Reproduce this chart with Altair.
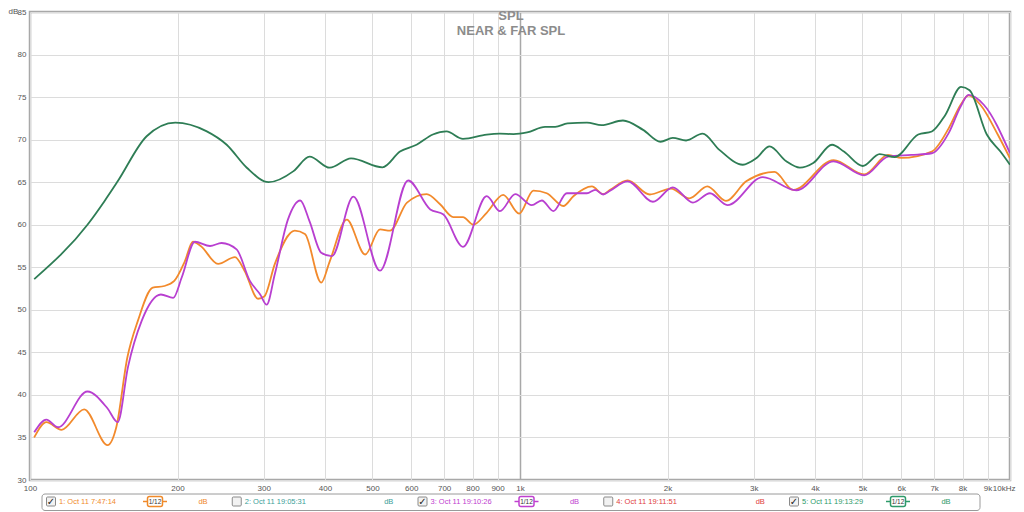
import altair as alt
import pandas as pd

# ---------------- data ----------------
orange_f = [102, 108, 116, 129, 144, 150, 158, 166, 178, 188, 197, 207, 215, 223, 242, 262, 274, 292, 301,
            316, 347, 364, 393, 409, 443, 483, 518, 543, 588, 645, 687, 731, 765, 803, 855, 924, 996, 1065,
            1134, 1226, 1285, 1402, 1478, 1527, 1658, 1840, 2033, 2216, 2412, 2632, 2895, 3305, 3610, 4365,
            5040, 5640, 6000, 6925, 7500, 7930, 8230, 8700, 9440, 10000]
orange_db = [35.0, 36.8, 35.9, 38.3, 34.1, 36.2, 44.4, 48.7, 52.6, 52.8, 53.4, 55.7, 58.0, 57.5, 55.4, 56.2,
             54.6, 51.3, 51.6, 55.4, 59.3, 58.9, 53.2, 55.7, 60.6, 56.5, 59.45, 59.3, 62.6, 63.6, 62.4, 60.9,
             60.9, 60.0, 61.4, 63.5, 61.3, 64.0, 63.7, 62.2, 63.35, 64.5, 63.6, 64.1, 65.2, 63.55, 64.25, 63.1,
             64.5, 62.8, 65.1, 66.2, 64.1, 67.6, 65.9, 68.2, 67.85, 68.6, 71.35, 74.1, 75.2, 74.1, 70.6, 67.8]

purple_f = [102, 108, 114, 131, 144, 151, 158.5, 169, 185, 196, 204, 217, 233, 246, 264, 281, 295, 304, 316,
            336, 356, 372, 393, 413, 457, 518, 591, 656, 698, 765, 855, 910, 978, 1057, 1108, 1170, 1246,
            1370, 1424, 1478, 1527, 1658, 1868, 2050, 2254, 2442, 2650, 3130, 3664, 4365, 5040, 5640, 6290,
            6925, 7500, 7930, 8230, 8840, 10000]
purple_db = [35.6, 37.1, 36.2, 40.4, 38.4, 36.8, 43.3, 48.7, 51.8, 51.4, 53.8, 58.0, 57.5, 57.85, 57.1, 53.4,
             51.8, 50.6, 54.2, 60.6, 62.85, 60.4, 56.7, 56.3, 63.3, 54.6, 65.2, 61.8, 61.2, 57.4, 63.35, 61.6,
             63.6, 62.3, 62.85, 61.6, 63.7, 63.7, 64.1, 63.55, 64.0, 65.1, 62.7, 64.4, 62.6, 63.7, 62.3, 65.6,
             64.05, 67.45, 65.8, 68.0, 68.2, 68.4, 70.8, 73.9, 75.25, 74.1, 68.4]

green_f = [102, 131, 142, 151, 173, 198, 229, 252, 277, 307, 345, 372, 409, 452, 524, 569, 615, 664, 708,
           765, 855, 910, 970, 1034, 1125, 1180, 1250, 1370, 1467, 1622, 1783, 1935, 2050, 2182, 2358, 2552,
           2850, 3034, 3230, 3495, 3725, 3967, 4333, 4581, 5004, 5418, 5818, 6497, 6925, 7379, 7946, 8270,
           8967, 9560, 10000]
green_db = [53.6, 60.0, 62.8, 65.1, 70.4, 72.0, 71.0, 69.4, 66.7, 65.0, 66.3, 68.0, 66.7, 67.8, 66.75, 68.6,
            69.4, 70.6, 70.96, 70.1, 70.6, 70.7, 70.65, 70.85, 71.5, 71.5, 71.9, 72.0, 71.7, 72.25, 71.15,
            69.75, 70.2, 69.9, 70.7, 68.8, 67.05, 67.8, 69.2, 67.45, 66.7, 67.25, 69.4, 68.6, 66.9, 68.3,
            67.95, 70.6, 70.96, 72.9, 76.2, 75.8, 70.6, 68.6, 67.05]

series_names = ["1", "3", "5"]
series_colors = ["#F28A2C", "#B83FD0", "#2E7D55"]

x_ticks = [100, 200, 300, 400, 500, 600, 700, 800, 900,
           1000, 2000, 3000, 4000, 5000, 6000, 7000, 8000, 9000, 10000]
y_ticks = [30, 35, 40, 45, 50, 55, 60, 65, 70, 75, 80, 85]

title_lines = ["SPL", "NEAR & FAR SPL"]

legend_labels = ["1: Oct 11 7:47:14", "2: Oct 11 19:05:31", "3: Oct 11 19:10:26",
                 "4: Oct 11 19:11:51", "5: Oct 11 19:13:29"]
legend_colors = ["#F08A2A", "#3A9E98", "#C040D0", "#E03C3C", "#2E9A6A"]
legend_checked = [True, False, True, False, True]
legend_icon = [True, False, True, False, True]

# ---------------- build tables ----------------
rows = []
for name, fs, ds in zip(series_names, [orange_f, purple_f, green_f], [orange_db, purple_db, green_db]):
    for f, d in zip(fs, ds):
        rows.append({"series": name, "f": f, "db": d})
df = pd.DataFrame(rows)

W, H = 980, 468
FONT = "Liberation Sans"

x_axis = alt.Axis(
    values=x_ticks, title=None, ticks=False, domain=False,
    labelExpr="datum.value >= 10000 ? '10kHz' : (datum.value >= 1000 ? (datum.value/1000) + 'k' : datum.value)",
    labelFont=FONT, labelFontSize=8, labelColor="#555555", labelPadding=4,
    labelAlign={"condition": {"test": "datum.value >= 10000", "value": "right"}, "value": "center"},
    labelOffset={"condition": {"test": "datum.value >= 10000", "value": 5}, "value": 0},
    gridColor={"condition": {"test": "datum.value === 1000", "value": "#a8a8a8"}, "value": "#dcdcdc"},
    gridWidth={"condition": {"test": "datum.value === 1000", "value": 1.5}, "value": 1},
    labelOverlap=False,
)
y_axis = alt.Axis(
    values=y_ticks, title=None, ticks=False, domain=False,
    labelFont=FONT, labelFontSize=8, labelColor="#555555", labelPadding=4,
    gridColor="#dcdcdc", labelOverlap=False,
)

lines = alt.Chart(df).mark_line(strokeWidth=1.8, interpolate="monotone", clip=True).encode(
    x=alt.X("f:Q", scale=alt.Scale(type="log", domain=[100, 10000]), axis=x_axis),
    y=alt.Y("db:Q", scale=alt.Scale(domain=[30, 85]), axis=y_axis),
    color=alt.Color("series:N", scale=alt.Scale(domain=series_names, range=series_colors), legend=None),
)

# ---------------- chrome: titles, dB unit, legend strip ----------------
tdf = pd.DataFrame({"t": title_lines, "px": [481, 481], "py": [4, 19]})
titles = alt.Chart(tdf).mark_text(font=FONT, fontSize=13, fontWeight="bold", color="#8c8c8c",
                                  baseline="middle", align="center").encode(
    x=alt.X("px:Q", scale=None, axis=None), y=alt.Y("py:Q", scale=None, axis=None), text="t:N")

unit = alt.Chart(pd.DataFrame({"t": ["dB"], "px": [-16.5], "py": [-4]})).mark_text(
    font=FONT, fontSize=8, color="#555555", baseline="top", align="center").encode(
    x=alt.X("px:Q", scale=None, axis=None), y=alt.Y("py:Q", scale=None, axis=None), text="t:N")

# legend positions (view coordinates)
step = 185.75
cb0 = 21.0     # first checkbox centre
ly = 489.5     # legend row centre
leg = pd.DataFrame({
    "label": legend_labels,
    "color": legend_colors,
    "checked": legend_checked,
    "icon": legend_icon,
    "i": list(range(len(legend_labels))),
})
leg["cb"] = cb0 + step * leg["i"]
leg["cbl"] = leg["cb"] - 4.5
leg["cbr"] = leg["cb"] + 4.5
leg["tx"] = leg["cb"] + 8
leg["ic"] = leg["cb"] + 104
leg["icl"] = leg["ic"] - 7.5
leg["icr"] = leg["ic"] + 7.5
leg["stl"] = leg["ic"] - 12
leg["str"] = leg["ic"] + 12
leg["dbx"] = leg["cb"] + 152
leg["y"] = ly
leg["yt"] = ly - 4.5
leg["yb"] = ly + 4.5
leg["iyt"] = ly - 5
leg["iyb"] = ly + 5
leg["check"] = leg["checked"].map(lambda c: "✓" if c else "")
leg["unit"] = "dB"
leg["ictext"] = "1/12"

frame = alt.Chart(pd.DataFrame({"a": [12], "b": [950], "c": [482], "d": [498.5]})).mark_rect(
    fill="white", stroke="#9a9a9a", strokeWidth=1, cornerRadius=3).encode(
    x=alt.X("a:Q", scale=None, axis=None), x2="b:Q",
    y=alt.Y("c:Q", scale=None, axis=None), y2="d:Q")

boxes = alt.Chart(leg).mark_rect(fill="#f2f2f2", stroke="#8a8a8a", strokeWidth=1, cornerRadius=1).encode(
    x=alt.X("cbl:Q", scale=None, axis=None), x2="cbr:Q",
    y=alt.Y("yt:Q", scale=None, axis=None), y2="yb:Q")

checks = alt.Chart(leg).mark_text(font="DejaVu Sans", fontSize=10, fontWeight="bold", color="#222222",
                                  baseline="middle", align="center").encode(
    x=alt.X("cb:Q", scale=None, axis=None), y=alt.Y("y:Q", scale=None, axis=None), text="check:N")

ltext = alt.Chart(leg).mark_text(font=FONT, fontSize=7.5, baseline="middle", align="left").encode(
    x=alt.X("tx:Q", scale=None, axis=None), y=alt.Y("y:Q", scale=None, axis=None), text="label:N",
    color=alt.Color("color:N", scale=None))

units = alt.Chart(leg).mark_text(font=FONT, fontSize=7.5, baseline="middle", align="center").encode(
    x=alt.X("dbx:Q", scale=None, axis=None), y=alt.Y("y:Q", scale=None, axis=None), text="unit:N",
    color=alt.Color("color:N", scale=None))

icon_leg = leg[leg["icon"]]
stubs = alt.Chart(icon_leg).mark_rule(strokeWidth=1.5).encode(
    x=alt.X("stl:Q", scale=None, axis=None), x2="str:Q",
    y=alt.Y("y:Q", scale=None, axis=None), color=alt.Color("color:N", scale=None))
iboxes = alt.Chart(icon_leg).mark_rect(fill="white", strokeWidth=1.5, cornerRadius=2).encode(
    x=alt.X("icl:Q", scale=None, axis=None), x2="icr:Q",
    y=alt.Y("iyt:Q", scale=None, axis=None), y2="iyb:Q", stroke=alt.Stroke("color:N", scale=None))
itext = alt.Chart(icon_leg).mark_text(font=FONT, fontSize=6.5, color="#333333",
                                      baseline="middle", align="center").encode(
    x=alt.X("ic:Q", scale=None, axis=None), y=alt.Y("y:Q", scale=None, axis=None), text="ictext:N")

chart = alt.layer(
    lines, titles, unit, frame, boxes, checks, ltext, units, stubs, iboxes, itext
).resolve_scale(color="independent").properties(
    width=W, height=H,
    autosize=alt.AutoSizeParams(type="none"),
    padding={"left": 22, "top": 4, "right": 6, "bottom": 32},
    background="white",
).configure_view(stroke="#a8a8a8", strokeWidth=2.5)

chart.save("out.html", embed_options={"renderer": "svg", "actions": False})
